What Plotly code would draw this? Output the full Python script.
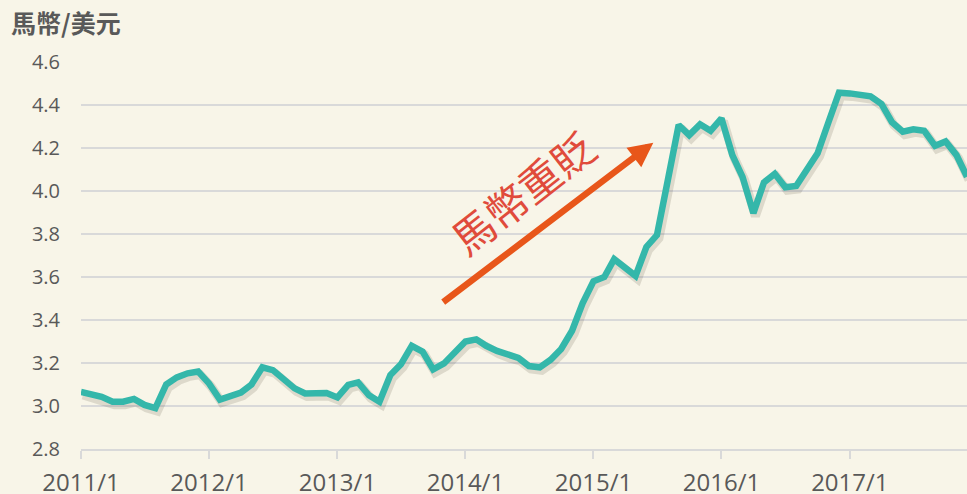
import pandas as pd
import plotly.graph_objects as go

# ---- data ----
start_month = "2011-01-01"
myr_per_usd = [
    3.065, 3.050, 3.043, 3.020, 3.020, 3.033, 3.005, 2.990, 3.100, 3.133, 3.152, 3.160,
    3.105, 3.030, 3.045, 3.062, 3.100, 3.180, 3.167, 3.120, 3.082, 3.058, 3.062, 3.060,
    3.040, 3.098, 3.110, 3.050, 3.020, 3.144, 3.194, 3.280, 3.253, 3.170, 3.198, 3.250,
    3.300, 3.310, 3.280, 3.256, 3.237, 3.224, 3.186, 3.180, 3.215, 3.265, 3.350, 3.478,
    3.580, 3.600, 3.683, 3.640, 3.605, 3.740, 3.795, 4.050, 4.307, 4.260, 4.310, 4.280,
    4.338, 4.167, 4.066, 3.897, 4.040, 4.080, 4.017, 4.023, 4.098, 4.175, 4.320, 4.457,
    4.454, 4.443, 4.440, 4.405, 4.320, 4.276, 4.287, 4.280, 4.210, 4.230, 4.167, 4.066,
]
tick_dates = ["2011-01-01", "2012-01-01", "2013-01-01", "2014-01-01",
              "2015-01-01", "2016-01-01", "2017-01-01"]
tick_labels = ["2011/1", "2012/1", "2013/1", "2014/1", "2015/1", "2016/1", "2017/1"]
y_ticks = [2.8, 3.0, 3.2, 3.4, 3.6, 3.8, 4.0, 4.2, 4.4, 4.6]
y_tick_labels = ["2.8", "3.0", "3.2", "3.4", "3.6", "3.8", "4.0", "4.2", "4.4", "4.6"]
y_title = "馬幣/美元"
note_text = "馬幣重貶"

months = pd.date_range(start_month, periods=len(myr_per_usd), freq="MS")

BG = "#f8f5e8"
GRID = "#d9d9d9"
TXT = "#595959"
TEAL = "#34b7aa"

x_range = [months[0], months[-1]]
y_range = [2.8, 4.6]

# shadow offset (pixels) realised by shifting overlay axes ranges
W, H = 886, 387
x_span = (months[-1] - months[0])
dx = x_span * (2.0 / W)
dy = (y_range[1] - y_range[0]) * (3.0 / H)

fig = go.Figure()
# invisible carrier trace so the base axes (grid, ticks) are drawn
fig.add_trace(go.Scatter(
    x=months, y=myr_per_usd, mode="lines",
    line=dict(color="rgba(0,0,0,0)", width=0),
    hoverinfo="skip", showlegend=False,
))
fig.add_trace(go.Scatter(
    x=months, y=myr_per_usd, mode="lines",
    line=dict(color="rgba(60,50,30,0.14)", width=9),
    xaxis="x2", yaxis="y2", hoverinfo="skip", showlegend=False,
))
fig.add_trace(go.Scatter(
    x=months, y=myr_per_usd, mode="lines",
    line=dict(color=TEAL, width=6.5),
    xaxis="x3", yaxis="y3", showlegend=False,
))

fig.update_layout(
    width=967, height=494,
    margin=dict(l=81, r=0, t=62, b=45, autoexpand=False),
    paper_bgcolor=BG, plot_bgcolor=BG,
    font=dict(family="Open Sans, Noto Sans CJK TC", color=TXT),
    xaxis=dict(
        range=x_range, tickvals=tick_dates, ticktext=tick_labels,
        showgrid=False, zeroline=False, automargin=False,
        showline=True, linecolor=GRID, linewidth=2,
        ticks="outside", ticklen=8, tickwidth=2, tickcolor=GRID,
        tickfont=dict(family="Open Sans", size=24, color=TXT),
        ticklabelstandoff=3,
    ),
    yaxis=dict(
        range=y_range, tickvals=y_ticks, ticktext=y_tick_labels,
        showgrid=True, gridcolor=GRID, gridwidth=1.5,
        zeroline=False, showline=False, ticks="", automargin=False,
        tickfont=dict(family="Open Sans", size=20, color=TXT),
        ticklabelstandoff=20,
    ),
    xaxis2=dict(range=[x_range[0] - dx, x_range[1] - dx], overlaying="x",
                visible=False, showgrid=False),
    yaxis2=dict(range=[y_range[0] + dy, y_range[1] + dy], overlaying="y",
                visible=False, showgrid=False),
    xaxis3=dict(range=x_range, overlaying="x", visible=False, showgrid=False),
    yaxis3=dict(range=y_range, overlaying="y", visible=False, showgrid=False),
    title=dict(
        text=y_title, x=11 / 967, xanchor="left", xref="container",
        y=1 - 24 / 494, yanchor="middle", yref="container",
        font=dict(family="Noto Sans CJK TC", size=25, color=TXT, weight="bold"),
    ),
)

# arrow
fig.add_annotation(
    x=(653.3 - 81) / W, y=(449 - 142.7) / H, xref="paper", yref="paper",
    ax=441.7 - 653.3, ay=303.3 - 142.7, axref="pixel", ayref="pixel",
    showarrow=True, arrowhead=2, arrowsize=0.75, arrowwidth=6.5,
    arrowcolor="#e8561a", text="",
)
# rotated note
fig.add_annotation(
    x=(521.5 - 81) / W, y=(449 - 191.5) / H, xref="paper", yref="paper",
    text=note_text, showarrow=False, textangle=-38,
    xanchor="center", yanchor="middle",
    font=dict(family="Noto Sans CJK TC", size=42, color="#e04b3b"),
)

fig.write_html(
    "out.html",
    config={"displayModeBar": False},
    post_script="document.body.style.margin='0';document.body.style.overflow='hidden';",
)
